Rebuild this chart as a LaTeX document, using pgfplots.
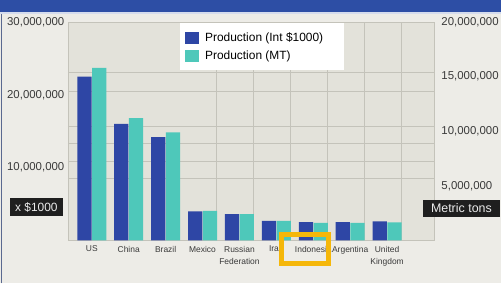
\documentclass[border=0pt]{standalone}
\usepackage{fontspec}
\setmainfont{Liberation Sans}
\usepackage{pgfplots}
\pgfplotsset{compat=1.18}
\pgfplotsset{sqlegend/.style={legend image code/.code={\fill[##1] (0bp,-6bp) rectangle (14.5bp,6bp);}}}
\definecolor{outerbg}{HTML}{EDECE7}
\definecolor{plotbg}{HTML}{E3E2DA}
\definecolor{gridc}{HTML}{C4C3BA}
\definecolor{darkbar}{HTML}{2E46A5}
\definecolor{tealbar}{HTML}{4EC8BA}
\definecolor{titlebar}{HTML}{2D4EA5}
\definecolor{ticktext}{HTML}{3A3A3A}
\definecolor{hl}{HTML}{F5B70A}
\begin{document}
\begin{tikzpicture}[x=1bp,y=1bp]
\fill[outerbg] (0,0) rectangle (502,284);
\fill[titlebar] (0,271.5) rectangle (502,284);
\fill[titlebar!20!white] (0,269.5) rectangle (502,271.5);
\draw[line width=1.5bp, color=titlebar!45!gray] (1.5,0) -- (1.5,270);
\begin{axis}[at={(68bp,43bp)}, anchor=south west, scale only axis,
  width=367bp, height=219bp,
  xmin=-0.649, xmax=9.27, ymin=0, ymax=30000000,
  axis background/.style={fill=plotbg},
  axis line style={draw=gridc},
  major tick length=0,
  xtick={0,...,8},
  xticklabels={US, China, Brazil, Mexico, {Russian\\Federation}, Iran, Indonesia, Argentina, {United\\Kingdom}},
  xticklabel style={align=center, font=\fontsize{8.5}{12.5}\selectfont, text=ticktext, yshift=-2bp},
  scaled y ticks=false,
  ytick={10000000,20000000,30000000},
  yticklabels={{10,000,000},{20,000,000},{30,000,000}},
  yticklabel style={font=\fontsize{11.5}{13}\selectfont, text=ticktext},
  grid style={gridc, line width=0.8bp},
  extra y ticks={8490000,10820000,13290000,15620000,20410000,23010000},
  extra y tick labels={},
  extra y tick style={grid=major},
  extra x ticks={3.38,4.38,5.38,6.38,7.38,8.38},
  extra x tick labels={},
  extra x tick style={grid=major},
  ybar, bar width=14.3bp,
  legend style={at={(0.305,0.995)}, anchor=north west, fill=white, draw=none,
    font=\fontsize{12}{14}\selectfont, inner xsep=5bp, inner ysep=7.5bp, row sep=3.5bp,
    cells={anchor=west},
    /tikz/every odd column/.append style={column sep=4bp}},
]
\addplot[fill=darkbar, draw=none, bar shift=-7.4bp, sqlegend]
  coordinates {(0,22500000) (1,16000000) (2,14200000) (3,4000000) (4,3600000)
               (5,2700000) (6,2500000) (7,2500000) (8,2600000)};
\addlegendentry{Production (Int \$1000)\hspace*{14bp}\mbox{}}
\addlegendimage{fill=tealbar, draw=none, sqlegend}
\addlegendentry{Production (MT)}
\end{axis}
\begin{axis}[at={(68bp,43bp)}, anchor=south west, scale only axis,
  width=367bp, height=219bp,
  xmin=-0.649, xmax=9.27, ymin=0, ymax=20000000,
  hide x axis, axis y line*=right, y axis line style={draw=none},
  major tick length=0,
  scaled y ticks=false,
  ytick={5000000,10000000,15000000,20000000},
  yticklabels={{5,000,000},{10,000,000},{15,000,000},{20,000,000}},
  yticklabel style={font=\fontsize{11.5}{13}\selectfont, text=ticktext, xshift=4bp},
  ybar, bar width=14.3bp,
]
\addplot[fill=tealbar, draw=none, bar shift=7.4bp]
  coordinates {(0,15800000) (1,11200000) (2,9900000) (3,2700000) (4,2400000)
               (5,1800000) (6,1600000) (7,1600000) (8,1650000)};
\end{axis}
\node[fill=black!88, text=white!92!black, font=\fontsize{12}{14}\selectfont,
  minimum width=53bp, minimum height=19bp, inner sep=0] at (36.5,76.5) {x \$1000};
\node[fill=black!88, text=white!92!black, font=\fontsize{12.5}{14}\selectfont,
  minimum width=77bp, minimum height=18bp, inner sep=0] at (462.5,75) {Metric tons};
\draw[hl, line width=5bp] (282.5,48.5) rectangle (329.5,19.5);
\end{tikzpicture}
\end{document}
